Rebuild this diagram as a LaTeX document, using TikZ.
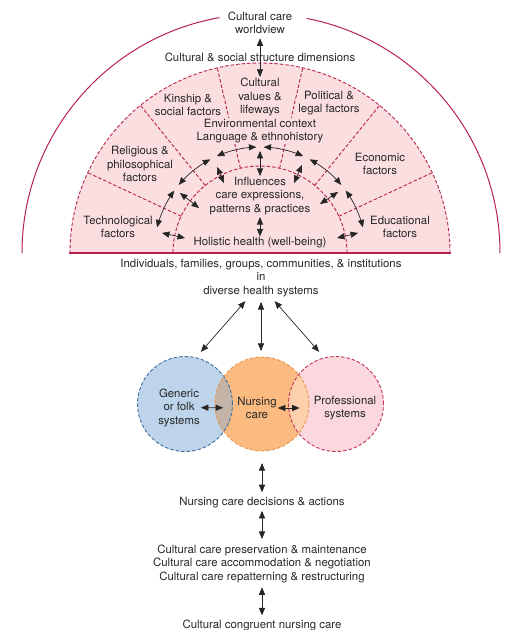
\documentclass[tikz,border=0pt]{standalone}
\usepackage{fontspec}
\setmainfont{TeX Gyre Heros}
\usepackage{xcolor}
\usetikzlibrary{arrows,positioning,calc}

\definecolor{sunred}{RGB}{185,35,75}
\definecolor{sunpink}{RGB}{251,222,224}
\definecolor{folkfill}{RGB}{189,212,235}
\definecolor{folkline}{RGB}{60,110,160}
\definecolor{nursefill}{RGB}{250,186,128}
\definecolor{nurseline}{RGB}{235,150,80}
\definecolor{proffill}{RGB}{250,216,222}
\definecolor{profline}{RGB}{200,50,90}
\definecolor{mixgray}{RGB}{196,180,168}
\definecolor{mixpeach}{RGB}{252,208,172}

\begin{document}
\begin{tikzpicture}[x=1pt,y=1pt,>=triangle 45,
	txt/.style={align=center,inner sep=1pt,text=black!85,font=\fontsize{11.4}{13.5}\selectfont},
	band/.style={draw=sunred,line width=0.9pt,dash pattern=on 3.5pt off 2pt},
	dbl/.style={<->,line width=0.7pt,draw=black!85},
	venn/.style={circle,minimum size=95pt,inner sep=0pt}]

\useasboundingbox (-260,-377) rectangle (261,253);

% sunrise half
\fill[sunpink] (190,0) arc[start angle=0,end angle=180,radius=190] -- cycle;
\draw[band] (190,0) arc[start angle=0,end angle=180,radius=190];
\draw[band] (87,0) arc[start angle=0,end angle=180,radius=87];
\foreach \a in {25,51,77,103,129,155}
	\draw[band] (\a:87) -- (\a:190);
\draw[sunred,line width=1.6pt] (-191,0) -- (191,0);
\draw[sunred,line width=1pt] (1,0) ++(180:239) arc[start angle=180,end angle=100,radius=239];
\draw[sunred,line width=1pt] (1,0) ++(79:239) arc[start angle=79,end angle=0,radius=239];

\node[txt] (wv) at (0,230) {Cultural care\\worldview};
\node[txt] (dims) at (0,196) {Cultural \& social structure dimensions};
\node[txt] (cv) at (0,156) {Cultural\\values \&\\lifeways};
\node[txt] (kin) at (-72,148) {Kinship \&\\social factors};
\node[txt] (pol) at (69,150) {Political \&\\legal factors};
\node[txt] (rel) at (-120,89) {Religious \&\\philosophical\\factors};
\node[txt] (eco) at (120,89) {Economic\\factors};
\node[txt] (tec) at (-142,26) {Technological\\factors};
\node[txt] (edu) at (140,26) {Educational\\factors};
\node[txt,fill=sunpink] (env) at (0,122) {Environmental context\\Language \& ethnohistory};
\node[txt] (inf) at (0,57) {Influences\\care expressions,\\patterns \& practices};
\node[txt] (hol) at (0,10) {Holistic health (well-being)};

\draw[dbl,shorten <=3pt] (wv) -- (cv);

% arc of arrows round the inner band
\foreach \a in {14,40,66,92,118,144}
	\draw[dbl] (\a:106) arc[start angle=\a,end angle=\a+22,radius=106];

\coordinate (p1) at (-98,20); \coordinate (q1) at (-75,15);
\coordinate (p2) at (-80,60); \coordinate (q2) at (-61,45);
\coordinate (p3) at (-43,86); \coordinate (q3) at (-36,70);
\coordinate (p4) at (0,102);
\coordinate (p5) at (42,88);  \coordinate (q5) at (34,70);
\coordinate (p6) at (78,61);  \coordinate (q6) at (60,49);
\coordinate (p7) at (98,20);  \coordinate (q7) at (77,15);

\draw[dbl] (p1) -- (q1);
\draw[dbl] (p2) -- (q2);
\draw[dbl] (p3) -- (q3);
\draw[dbl] (p4) -- (inf.north);
\draw[dbl] (p5) -- (q5);
\draw[dbl] (p6) -- (q6);
\draw[dbl] (p7) -- (q7);
\draw[dbl,shorten <=1pt] (inf.south) -- (hol.north);

% health systems
\node[txt] (ind) at (1,-25) {Individuals, families, groups, communities, \& institutions\\in\\diverse health systems};

\node[venn,fill=folkfill] (folk) at (-75,-151) {};
\node[venn,fill=proffill] (prof) at (76,-151) {};
\node[venn,fill=nursefill,minimum size=94pt] (nurse) at (2,-151) {};
\begin{scope}
	\clip (folk.center) circle (47.5);
	\fill[mixgray] (nurse.center) circle (47);
\end{scope}
\begin{scope}
	\clip (prof.center) circle (47.5);
	\fill[mixpeach] (nurse.center) circle (47);
\end{scope}
\draw[folkline,line width=0.9pt,dash pattern=on 3.5pt off 2pt] (folk.center) circle (47.5);
\draw[profline,line width=0.9pt,dash pattern=on 3.5pt off 2pt] (prof.center) circle (47.5);
\draw[nurseline,line width=0.9pt,dash pattern=on 3.5pt off 2pt] (nurse.center) circle (47);

\node[txt] (folktxt) at (-81,-154.5) {Generic\\or folk\\systems};
\node[txt] (nursetxt) at (-3,-155) {Nursing\\care};
\node[txt] (proftxt) at (85,-155) {Professional\\systems};

\draw[dbl,shorten >=13pt] (folktxt) -- (nursetxt);
\draw[dbl,shorten >=13pt] (nursetxt) -- (proftxt);

\draw[dbl,shorten <=4pt,shorten >=6pt] ([xshift=-13pt]ind.south) -- ($(folk.north)+(12,0)$);
\draw[dbl,shorten <=4pt,shorten >=6pt] (ind.south) -- (ind.south |- nurse.north);
\draw[dbl,shorten <=4pt,shorten >=6pt] ([xshift=11pt]ind.south) -- ($(prof.north)+(-13,0)$);

% decisions and actions
\node[txt] (dec) [below=45pt of nurse] {Nursing care decisions \& actions};
\node[txt] (care) [below=34pt of dec] {Cultural care preservation \& maintenance\\Cultural care accommodation \& negotiation\\Cultural care repatterning \& restructuring};
\node[txt] (cong) [below=35pt of care] {Cultural congruent nursing care};

\draw[dbl,shorten <=12pt,shorten >=4pt] (dec.north |- nurse.south) -- (dec.north);
\draw[dbl,shorten <=1.5pt,shorten >=4.5pt] (dec) -- (care);
\draw[dbl,shorten <=3.5pt,shorten >=3.5pt] (care) -- (cong);

\end{tikzpicture}
\end{document}
